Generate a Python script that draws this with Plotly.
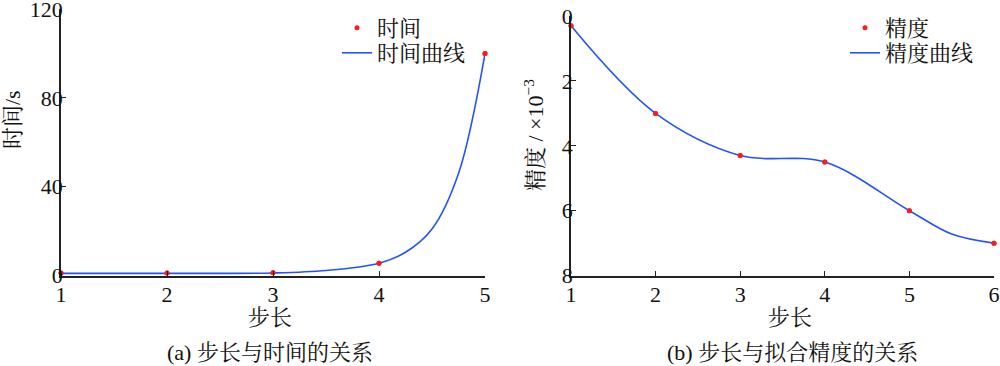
import plotly.graph_objects as go

step_a = [1, 2, 3, 4, 5]
time_s = [1.2, 1.2, 1.3, 5.6, 100]
curve_a_x = [1, 2, 3, 3.5, 4, 4.25, 4.5, 4.75, 5]
curve_a_y = [1.0, 1.0, 1.2, 2.3, 5.6, 10.5, 21, 46, 100]

step_b = [1, 2, 3, 4, 5, 6]
precision = [0.3, 3.0, 4.3, 4.5, 6.0, 7.0]
curve_b_x = [1, 2, 3, 4, 5, 5.5, 6]
curve_b_y = [0.3, 3.0, 4.3, 4.5, 6.0, 6.72, 7.0]

ticks_a_x = [1, 2, 3, 4, 5]
ticks_a_y = [0, 40, 80, 120]
ticks_b_x = [1, 2, 3, 4, 5, 6]
ticks_b_y = [0, 2, 4, 6, 8]

FONT = "Liberation Serif, Times New Roman, Noto Serif CJK SC, Noto Sans CJK SC, serif"
FS = 22
RED = "#ff1a1a"
BLUE = "#2452ff"

fig = go.Figure()

fig.add_trace(go.Scatter(x=step_a, y=time_s, mode="markers", marker=dict(color=RED, size=5),
                         name="时间", xaxis="x", yaxis="y", legend="legend", cliponaxis=False))
fig.add_trace(go.Scatter(x=curve_a_x, y=curve_a_y, mode="lines",
                         line=dict(color=BLUE, width=1.6, shape="spline", smoothing=1.0),
                         name="时间曲线", xaxis="x", yaxis="y", legend="legend2", cliponaxis=False))
fig.add_trace(go.Scatter(x=step_a, y=time_s, mode="markers", marker=dict(color=RED, size=5),
                         showlegend=False, xaxis="x", yaxis="y", cliponaxis=False, hoverinfo="skip"))

fig.add_trace(go.Scatter(x=step_b, y=precision, mode="markers", marker=dict(color=RED, size=5),
                         name="精度", xaxis="x2", yaxis="y2", legend="legend3", cliponaxis=False))
fig.add_trace(go.Scatter(x=curve_b_x, y=curve_b_y, mode="lines",
                         line=dict(color=BLUE, width=1.6, shape="spline", smoothing=1.0),
                         name="精度曲线", xaxis="x2", yaxis="y2", legend="legend4", cliponaxis=False))
fig.add_trace(go.Scatter(x=step_b, y=precision, mode="markers", marker=dict(color=RED, size=5),
                         showlegend=False, xaxis="x2", yaxis="y2", cliponaxis=False, hoverinfo="skip"))

axis_common = dict(showgrid=False, zeroline=False, showline=True, linecolor="#222", linewidth=1.5,
                   ticks="inside", ticklen=5, tickcolor="#222", tickwidth=1.2, automargin=False,
                   ticklabeloverflow="allow",
                   tickfont=dict(family=FONT, size=FS, color="#111"))

leg_common = dict(xanchor="left", yanchor="middle", bgcolor="rgba(0,0,0,0)",
                  font=dict(family=FONT, size=FS, color="#111"), itemwidth=30)

fig.update_layout(
    width=1000, height=366,
    margin=dict(l=0, r=0, t=0, b=0),
    paper_bgcolor="white", plot_bgcolor="white",
    font=dict(family=FONT, size=FS, color="#111"),
    xaxis=dict(domain=[0.061, 0.485], range=[1, 5], tickvals=ticks_a_x, anchor="y",
               ticklabelstandoff=-2, **axis_common),
    yaxis=dict(domain=[0.247, 0.975], range=[0, 120], tickvals=ticks_a_y, anchor="x",
               ticklabelstandoff=-8, **axis_common),
    xaxis2=dict(domain=[0.571, 0.994], range=[1, 6], tickvals=ticks_b_x, anchor="y2",
                ticklabelstandoff=-2, **axis_common),
    yaxis2=dict(domain=[0.247, 0.956], range=[8, 0], tickvals=ticks_b_y, anchor="x2",
                ticklabelstandoff=-8, **axis_common),
    legend=dict(x=0.337, y=1 - 28 / 366, **leg_common),
    legend2=dict(x=0.337, y=1 - 53 / 366, **leg_common),
    legend3=dict(x=0.845, y=1 - 28 / 366, **leg_common),
    legend4=dict(x=0.845, y=1 - 53 / 366, **leg_common),
    showlegend=True,
)

ann = [
    dict(text="步长", x=270 / 1000, y=1 - 317 / 366),
    dict(text="步长", x=790 / 1000, y=1 - 317 / 366),
    dict(text="(a) 步长与时间的关系", x=270 / 1000, y=1 - 352 / 366),
    dict(text="(b) 步长与拟合精度的关系", x=792 / 1000, y=1 - 352 / 366),
    dict(text="时间/s", x=13 / 1000, y=1 - 120 / 366, textangle=-90),
    dict(text="精度 / ×10<sup>−3</sup>", x=534 / 1000, y=1 - 135 / 366, textangle=-90),
]
for a in ann:
    fig.add_annotation(xref="paper", yref="paper", showarrow=False, xanchor="center", yanchor="middle",
                       font=dict(family=FONT, size=FS, color="#111"), **a)

fig.write_html("out.html", config={"displayModeBar": False},
               post_script="document.body.style.margin='0';")
